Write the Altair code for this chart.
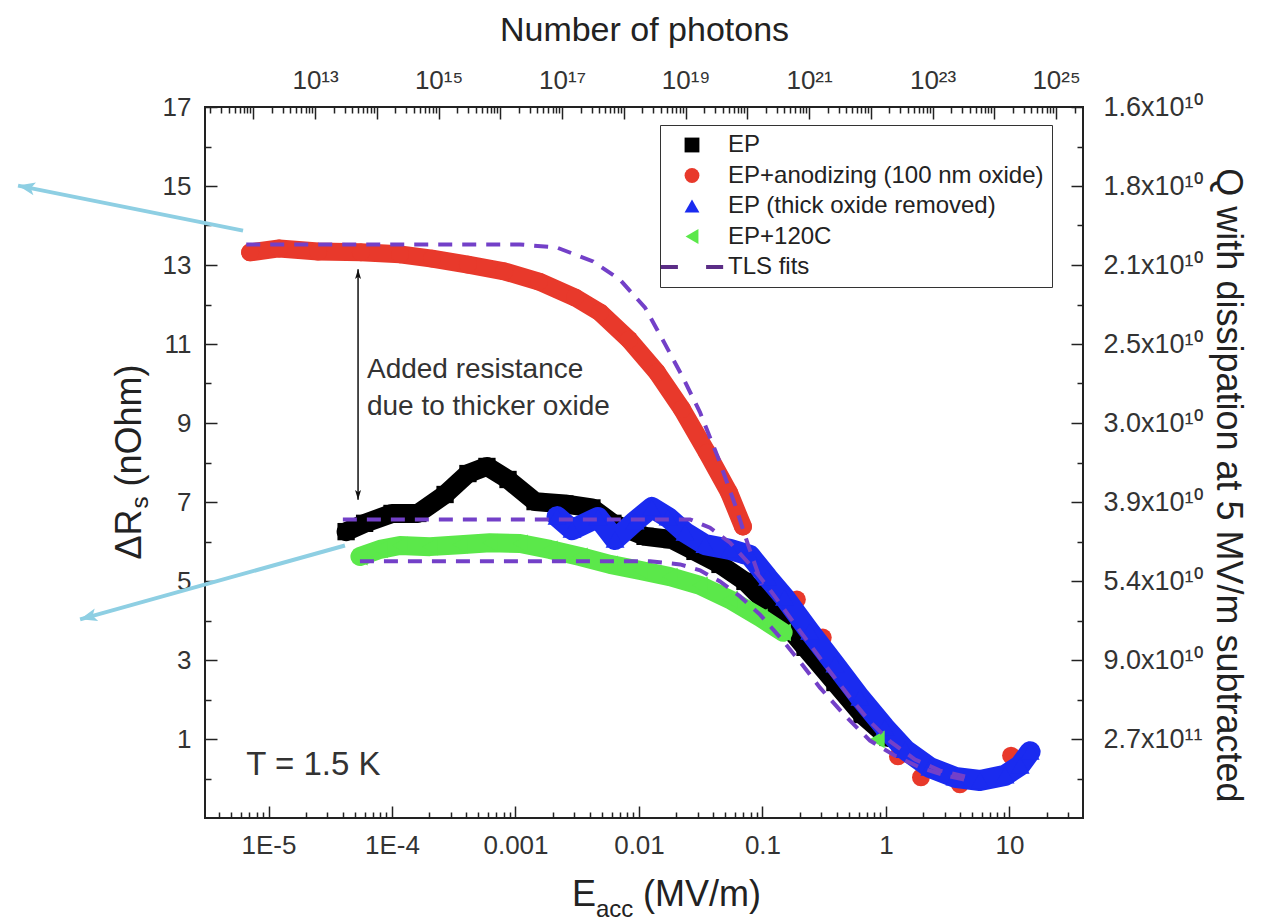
import json
import altair as alt
import pandas as pd

FONT = "Liberation Sans"

# ---------------- values ----------------
# E_acc in MV/m, Delta R_s in nOhm
EP_E = [4.25e-5, 6.0e-5, 1.0e-4, 1.62e-4, 2.69e-4, 4.12e-4, 5.87e-4, 8.7e-4, 1.44e-3, 2.51e-3,
        4.16e-3, 6.15e-3, 0.0112, 0.0185, 0.0284, 0.0453, 0.0721, 0.126, 0.221, 0.386, 0.640, 1.04]
EP_R = [6.25, 6.46, 6.71, 6.71, 7.19, 7.72, 7.90, 7.57, 7.01, 6.95,
        6.85, 6.46, 6.13, 6.05, 5.75, 5.42, 4.99, 4.23, 3.32, 2.43, 1.62, 1.04]

ANOD_E = [7.1e-6, 1.22e-5, 2.52e-5, 5.6e-5, 1.16e-4, 2.11e-4, 4.12e-4, 8.1e-4, 1.55e-3, 3.03e-3,
          4.83e-3, 8.3e-3, 0.0140, 0.0223, 0.0356, 0.0536, 0.0695]
ANOD_R = [13.32, 13.42, 13.34, 13.32, 13.27, 13.16, 13.01, 12.84, 12.58, 12.18,
          11.80, 11.11, 10.28, 9.35, 8.25, 7.24, 6.38]
ANOD_DOT_E = [0.190, 0.308, 1.25, 1.92, 3.97, 10.3]
ANOD_DOT_R = [4.53, 3.57, 0.56, 0.03, -0.15, 0.58]

THICK_E = [2.17e-3, 2.87e-3, 4.65e-3, 6.4e-3, 9.3e-3, 0.0127, 0.0172, 0.0236, 0.0342, 0.0545,
           0.079, 0.110, 0.151, 0.241, 0.386, 0.616, 0.98, 1.43, 2.27, 3.62, 5.77, 9.2, 12.2, 14.7]
THICK_R = [6.63, 6.30, 6.61, 6.05, 6.51, 6.86, 6.61, 6.23, 5.92, 5.80,
           5.65, 5.09, 4.58, 3.72, 2.89, 2.05, 1.29, 0.73, 0.28, 0.03, -0.05, 0.08, 0.33, 0.68]

C120_E = [5.5e-5, 8.0e-5, 1.16e-4, 2.03e-4, 3.56e-4, 6.2e-4, 1.09e-3, 1.90e-3, 3.33e-3, 5.82e-3,
          0.0102, 0.0178, 0.0312, 0.0546, 0.0955, 0.147]
C120_R = [5.62, 5.80, 5.90, 5.87, 5.92, 5.97, 5.95, 5.80, 5.62, 5.42,
          5.27, 5.11, 4.89, 4.53, 4.08, 3.70]
C120_DOT_E = [0.845]
C120_DOT_R = [0.99]

FIT_A_E = [6.6e-6, 1.09e-3, 2.17e-3, 4.25e-3, 7.0e-3, 0.0112, 0.0163, 0.0227, 0.0312, 0.0436, 0.0598, 0.0762, 0.0990]
FIT_A_R = [13.52, 13.52, 13.44, 13.09, 12.63, 11.92, 10.99, 10.15, 9.27, 8.13, 6.94, 5.93, 4.91]
FIT_B_E = [4.0e-5, 0.0259, 0.0376, 0.0546, 0.079, 0.115, 0.167, 0.243, 0.352, 0.512, 0.742, 1.08, 1.72, 2.74, 4.37]
FIT_B_R = [6.56, 6.56, 6.35, 5.97, 5.42, 4.78, 4.08, 3.39, 2.71, 2.05, 1.44, 0.94, 0.48, 0.20, 0.05]
FIT_C_E = [5.5e-5, 0.0123, 0.0215, 0.0312, 0.0453, 0.0658, 0.0955, 0.139, 0.201, 0.292, 0.466, 0.742, 1.18, 1.88, 3.0, 4.62]
FIT_C_R = [5.50, 5.50, 5.42, 5.27, 4.99, 4.61, 4.15, 3.57, 2.96, 2.30, 1.59, 0.96, 0.58, 0.28, 0.08, -0.05]

SERIES = ["EP", "EP+anodizing (100 nm oxide)", "EP (thick oxide removed)", "EP+120C", "TLS fits"]
SERIES_COLORS = ["#000000", "#E8392B", "#1A2BF0", "#5BE84A", "#5B2D86"]
SERIES_SHAPES = ["square", "circle", "triangle-up", "triangle-left",
                 "M-4.2,-0.27H-1.9V0.27H-4.2Z M1.9,-0.27H4.2V0.27H1.9Z"]
FIT_COLOR = "#7340C8"

# annotation values
ADDED_TEXT = ["Added resistance", "due to thicker oxide"]
ADDED_E = [6.27e-5, 6.27e-5]
ADDED_R = [10.15, 9.2]
GAP_ARROW_E = [5.31e-5]
GAP_ARROW_TOP = [12.89]
GAP_ARROW_BOTTOM = [7.06]
TEMP_TEXT = ["T = 1.5 K"]
TEMP_E = [6.6e-6]
TEMP_R = [0.1]
POINTER_TAIL_E = [6.22e-6, 4.16e-5]
POINTER_TAIL_R = [13.87, 5.90]
POINTER_TIP_E = [9.37e-8, 2.98e-7]
POINTER_TIP_R = [15.01, 4.03]
POINTER_ANGLE = [11.3, 344.4]

# axes
E_DOMAIN = [3.06e-6, 39.4]
N_DOMAIN = [1.65e11, 2.73e25]
R_DOMAIN = [-1, 17]
X_MAJOR = [1e-5, 1e-4, 1e-3, 1e-2, 1e-1, 1, 10]
X_LABELS = ["1E-5", "1E-4", "0.001", "0.01", "0.1", "1", "10"]
N_LABELLED = [1e13, 1e15, 1e17, 1e19, 1e21, 1e23, 1e25]
N_LABELS = ["10¹³", "10¹⁵", "10¹⁷", "10¹⁹", "10²¹", "10²³", "10²⁵"]
Y_MAJOR = [1, 3, 5, 7, 9, 11, 13, 15, 17]
Y_MINOR = [0, 2, 4, 6, 8, 10, 12, 14, 16]
Q_LABELS = ["2.7x10¹¹", "9.0x10¹⁰", "5.4x10¹⁰", "3.9x10¹⁰", "3.0x10¹⁰",
            "2.5x10¹⁰", "2.1x10¹⁰", "1.8x10¹⁰", "1.6x10¹⁰"]

X_MINOR = [m * 10.0 ** k for k in range(-6, 2) for m in range(2, 10)
           if E_DOMAIN[0] < m * 10.0 ** k < E_DOMAIN[1]]
N_MAJOR = [10.0 ** k for k in range(12, 26)]
N_MINOR = [m * 10.0 ** k for k in range(11, 26) for m in range(2, 10)
           if N_DOMAIN[0] < m * 10.0 ** k < N_DOMAIN[1]]

# ---------------- chart ----------------
XS = alt.Scale(type="log", domain=E_DOMAIN, nice=False)
NS = alt.Scale(type="log", domain=N_DOMAIN, nice=False)
YS = alt.Scale(domain=R_DOMAIN, nice=False, zero=False)

LEGEND = alt.Legend(orient="none", legendX=455, legendY=18, title=None,
                    strokeColor="#333", fillColor="white", padding=8,
                    labelFont=FONT, labelFontSize=24, labelColor="#222", labelLimit=600,
                    symbolSize=220, symbolOffset=12, labelOffset=24, rowPadding=6.5,
                    symbolStrokeWidth=0)
COLOR = alt.Color("series:N", scale=alt.Scale(domain=SERIES, range=SERIES_COLORS), legend=LEGEND)
SHAPE = alt.Shape("series:N", scale=alt.Scale(domain=SERIES, range=SERIES_SHAPES), legend=LEGEND)


def xy():
    return dict(x=alt.X("E:Q", scale=XS, axis=None), y=alt.Y("R:Q", scale=YS, axis=None))


def series_layers(name, e, r, width, size, dot_e=(), dot_r=()):
    color = SERIES_COLORS[SERIES.index(name)]
    line_df = pd.DataFrame({"E": e, "R": r})
    pts_df = pd.DataFrame({"E": list(e) + list(dot_e), "R": list(r) + list(dot_r), "series": name})
    line = alt.Chart(line_df).mark_line(color=color, strokeWidth=width, strokeCap="round",
                                        strokeJoin="round").encode(**xy())
    pts = alt.Chart(pts_df).mark_point(filled=True, opacity=1, size=size).encode(
        color=COLOR, shape=SHAPE, **xy())
    return [line, pts]


layers = []
layers += series_layers("EP", EP_E, EP_R, 19, 300)
layers += series_layers("EP+anodizing (100 nm oxide)", ANOD_E, ANOD_R, 18, 320, ANOD_DOT_E, ANOD_DOT_R)
layers += series_layers("EP (thick oxide removed)", THICK_E, THICK_R, 21, 360)
layers += series_layers("EP+120C", C120_E, C120_R, 19, 320, C120_DOT_E, C120_DOT_R)

fit_df = pd.concat([
    pd.DataFrame({"E": FIT_A_E, "R": FIT_A_R, "fit": "A"}),
    pd.DataFrame({"E": FIT_B_E, "R": FIT_B_R, "fit": "B"}),
    pd.DataFrame({"E": FIT_C_E, "R": FIT_C_R, "fit": "C"}),
])
layers.append(alt.Chart(fit_df).mark_line(color=FIT_COLOR, strokeWidth=4, strokeDash=[14, 10]).encode(
    detail="fit:N", **xy()))

# annotations
gap_df = pd.DataFrame({"E": GAP_ARROW_E, "R": GAP_ARROW_TOP, "R2": GAP_ARROW_BOTTOM})
layers.append(alt.Chart(gap_df).mark_rule(color="#111", strokeWidth=1.5).encode(
    x=alt.X("E:Q", scale=XS, axis=None), y=alt.Y("R:Q", scale=YS, axis=None), y2="R2:Q"))
layers.append(alt.Chart(gap_df).mark_point(shape="M0,0L-1,3.2L0,2.5L1,3.2Z", filled=True, size=36,
                                           color="#111", opacity=1).encode(**xy()))
layers.append(alt.Chart(gap_df).mark_point(shape="M0,0L-1,-3.2L0,-2.5L1,-3.2Z", filled=True, size=36,
                                           color="#111", opacity=1).encode(
    x=alt.X("E:Q", scale=XS, axis=None), y=alt.Y("R2:Q", scale=YS, axis=None)))
added_df = pd.DataFrame({"E": ADDED_E, "R": ADDED_R, "t": ADDED_TEXT})
layers.append(alt.Chart(added_df).mark_text(font=FONT, fontSize=28, color="#333", align="left",
                                            baseline="alphabetic").encode(text="t:N", **xy()))
temp_df = pd.DataFrame({"E": TEMP_E, "R": TEMP_R, "t": TEMP_TEXT})
layers.append(alt.Chart(temp_df).mark_text(font=FONT, fontSize=33, color="#333", align="left",
                                           baseline="alphabetic").encode(text="t:N", **xy()))

ptr_df = pd.DataFrame({"E": POINTER_TAIL_E, "R": POINTER_TAIL_R, "E2": POINTER_TIP_E,
                       "R2": POINTER_TIP_R, "ang": POINTER_ANGLE})
layers.append(alt.Chart(ptr_df).mark_rule(color="#8ECFE3", strokeWidth=4).encode(
    x=alt.X("E:Q", scale=XS, axis=None), y=alt.Y("R:Q", scale=YS, axis=None), x2="E2:Q", y2="R2:Q"))
layers.append(alt.Chart(ptr_df).mark_point(shape="M0,0L3.4,-1.3L2.6,0L3.4,1.3Z", filled=True, size=100,
                                           color="#8ECFE3", opacity=1).encode(
    x=alt.X("E2:Q", scale=XS, axis=None), y=alt.Y("R2:Q", scale=YS, axis=None),
    angle=alt.Angle("ang:Q", scale=None)))


# axis titles with subscripts
def title_text(text, x, y, size, angle=0):
    return alt.Chart(pd.DataFrame({"t": [text]})).mark_text(
        font=FONT, fontSize=size, color="#222", align="left", baseline="alphabetic", angle=angle
    ).encode(text="t:N", x=alt.value(x), y=alt.value(y))


layers += [
    title_text("E", 367, 799, 36), title_text("acc", 391, 810, 24), title_text("(MV/m)", 438, 799, 36),
    title_text("ΔR", -64, 452.5, 36, 270), title_text("s", -57, 401.5, 24, 270),
    title_text("(nOhm)", -64, 379.5, 36, 270),
]

# axes (labels and inward ticks)
dummy = pd.DataFrame({"E": [1.0], "R": [1.0], "N": [1e15]})
BASE = dict(grid=False, title=None, domain=False, labelFont=FONT, labelColor="#333",
            labelOverlap=False, labelFlush=False, labelBound=False)


def y_layer(axis):
    return alt.Chart(dummy).mark_point(opacity=0).encode(y=alt.Y("R:Q", scale=YS, axis=axis))


def x_layer(axis, field="E", scale=XS):
    return alt.Chart(dummy).mark_point(opacity=0).encode(x=alt.X(f"{field}:Q", scale=scale, axis=axis))


def tick_axis(orient, values, size):
    return alt.Axis(orient=orient, values=values, labels=False, ticks=True, tickSize=size, offset=-size,
                    tickColor="#222", tickWidth=1.5, grid=False, title=None, domain=False)


q_expr = json.dumps(Q_LABELS, ensure_ascii=False) + "[round((datum.value - 1) / 2)]"
x_expr = json.dumps(X_LABELS, ensure_ascii=False) + "[round(log(datum.value) / LN10 + 5)]"
n_expr = json.dumps(N_LABELS, ensure_ascii=False) + "[round((log(datum.value) / LN10 - 13) / 2)]"

layers += [
    y_layer(alt.Axis(orient="left", values=Y_MAJOR, ticks=False, tickSize=0, labelPadding=14,
                     labelFontSize=26, **BASE)),
    y_layer(tick_axis("left", Y_MAJOR, 12)),
    y_layer(tick_axis("left", Y_MINOR, 6)),
    y_layer(alt.Axis(orient="right", values=Y_MAJOR, ticks=False, tickSize=0, labelPadding=20,
                     labelFontSize=27, labelExpr=q_expr, labelAlign="left",
                     **{**BASE, "title": "Q with dissipation at 5 MV/m subtracted"},
                     titleFont=FONT, titleFontSize=36, titleFontWeight="normal", titleColor="#222",
                     titlePadding=6, titleY=378)),
    y_layer(tick_axis("right", Y_MAJOR, 12)),
    y_layer(tick_axis("right", Y_MINOR, 6)),
    x_layer(alt.Axis(orient="bottom", values=X_MAJOR, ticks=False, tickSize=0, labelPadding=14,
                     labelFontSize=26, labelExpr=x_expr, **BASE)),
    x_layer(tick_axis("bottom", X_MAJOR, 12)),
    x_layer(tick_axis("bottom", X_MINOR, 6)),
    x_layer(alt.Axis(orient="top", values=N_LABELLED, ticks=False, tickSize=0, labelPadding=14,
                     labelFontSize=26, labelExpr=n_expr,
                     **{**BASE, "title": "Number of photons"},
                     titleFont=FONT, titleFontSize=34, titleFontWeight="normal", titleColor="#222",
                     titlePadding=20), field="N", scale=NS),
    x_layer(tick_axis("top", N_MAJOR, 12), field="N", scale=NS),
    x_layer(tick_axis("top", N_MINOR, 6), field="N", scale=NS),
]

chart = alt.layer(*layers).resolve_scale(x="independent").resolve_axis(
    x="independent", y="independent"
).properties(
    width=878, height=711,
    autosize=alt.AutoSizeParams(type="none"),
    padding={"left": 197, "top": 99, "right": 175, "bottom": 106},
).configure_view(stroke="#222", strokeWidth=2)

chart.save("out.html", embed_options={"renderer": "svg", "actions": False})
